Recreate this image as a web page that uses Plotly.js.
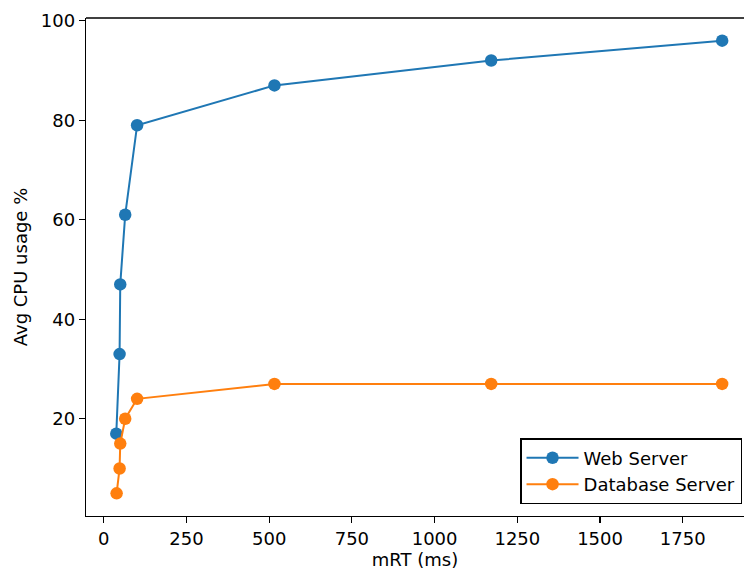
<!DOCTYPE html>
<html>
<head>
<meta charset="utf-8">
<script src="https://cdn.plot.ly/plotly-3.0.1.min.js"></script>
<style>html,body{margin:0;padding:0;background:#fff;}#chart{width:744px;height:570px;}</style>
</head>
<body>
<div id="chart"></div>
<script>
const webX = [38, 48, 50, 65, 101, 516, 1171, 1869];
const webY = [17, 33, 47, 61, 79, 87, 92, 96];
const dbX = [39, 48, 50, 65, 101, 516, 1171, 1869];
const dbY = [5, 10, 15, 20, 24, 27, 27, 27];
const xTicks = [0, 250, 500, 750, 1000, 1250, 1500, 1750];
const yTicks = [20, 40, 60, 80, 100];

const font = {family: 'DejaVu Sans, sans-serif', size: 18, color: '#000'};
const traces = [
  {x: webX, y: webY, name: 'Web Server', mode: 'lines+markers',
   line: {color: '#1f77b4', width: 2}, marker: {color: '#1f77b4', size: 12.5}},
  {x: dbX, y: dbY, name: 'Database Server', mode: 'lines+markers',
   line: {color: '#ff7f0e', width: 2}, marker: {color: '#ff7f0e', size: 12.5}}
];
const layout = {
  width: 744, height: 570,
  margin: {l: 86, r: 0, t: 18, b: 54},
  paper_bgcolor: '#fff', plot_bgcolor: '#fff',
  font: font,
  showlegend: true,
  legend: {x: 0.997, xanchor: 'right', y: 0.024, yanchor: 'bottom',
           bordercolor: '#000', borderwidth: 1.5, bgcolor: 'rgba(255,255,255,0.8)',
           font: font, tracegroupgap: 0, itemwidth: 52},
  xaxis: {range: [-53.5, 1935], tickvals: xTicks, ticks: 'outside', ticklen: 6,
          tickcolor: '#000', tickwidth: 1.2, showgrid: false, zeroline: false, showline: true,
          linecolor: '#000', linewidth: 1.3, tickfont: font,
          title: {text: 'mRT (ms)', font: font, standoff: 2}},
  yaxis: {range: [0.45, 100.55], tickvals: yTicks, ticks: 'outside', ticklen: 6,
          tickcolor: '#000', tickwidth: 1.2, showgrid: false, zeroline: false, showline: true,
          linecolor: '#000', linewidth: 1.3, tickfont: font,
          title: {text: 'Avg CPU usage %', font: font, standoff: 8}},
  shapes: [{type: 'line', xref: 'paper', yref: 'paper', x0: 0, x1: 1, y0: 1, y1: 1,
            line: {color: '#000', width: 1.3}}]
};
Plotly.newPlot('chart', traces, layout, {displayModeBar: false, staticPlot: true});
</script>
</body>
</html>
